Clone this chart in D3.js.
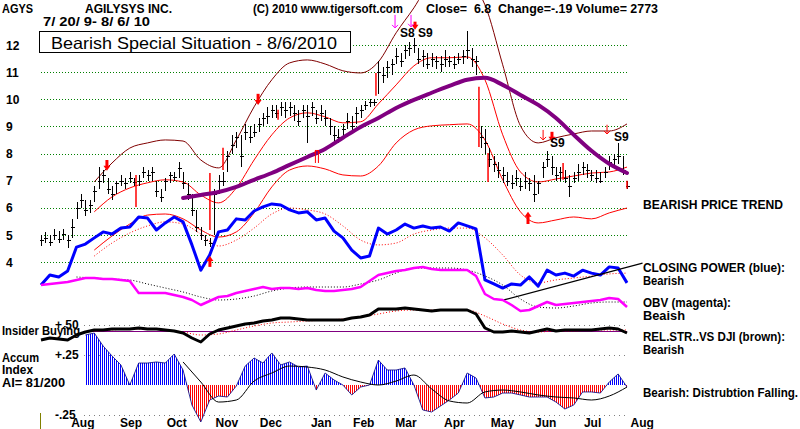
<!DOCTYPE html>
<html><head><meta charset="utf-8">
<script src="https://cdn.jsdelivr.net/npm/d3@7"></script>
<style>
html,body{margin:0;padding:0;background:#fff;}
svg{display:block;}
text{font-family:"Liberation Sans",Arial,sans-serif;font-weight:bold;font-size:12px;fill:#000;white-space:pre;}
</style></head><body>
<svg id="chart" width="800" height="429"></svg>
<script>
// ---------------- DATA ----------------
// price bars, one every 2 trading days from 7/20/09 (day 0) to 8/6/10 (day 264)
const barClose = [4.8,4.9,4.75,5.0,4.85,5.05,4.8,5.3,6.0,6.3,
 5.9,6.1,6.6,7.0,7.2,6.7,6.5,6.9,7.0,6.9,
 7.1,6.95,7.0,7.3,7.2,7.3,6.6,6.4,7.0,7.2,
 7.15,7.45,6.9,6.5,5.9,5.3,5.0,4.8,4.7,6.5,
 7.0,7.0,7.9,8.3,8.6,7.9,8.8,8.6,8.8,9.1,
 9.3,9.4,9.6,9.5,9.7,9.6,9.7,9.5,9.2,9.6,
 9.4,9.7,9.3,9.5,9.3,9.0,8.7,8.6,8.9,9.2,
 9.0,9.5,9.6,9.8,9.9,9.9,11.0,10.9,11.2,11.3,
 11.6,11.4,11.8,11.9,12.0,11.5,11.6,11.3,11.5,11.4,
 11.3,11.5,11.4,11.3,11.5,11.6,11.8,11.5,11.4,8.6,
 8.4,7.8,7.6,7.4,7.2,7.0,6.9,7.1,6.8,7.0,
 6.9,6.5,6.9,7.5,7.8,7.5,7.2,7.3,7.1,6.8,
 7.1,7.3,7.5,7.4,7.2,7.1,7.0,7.3,7.7,7.8,
 7.9,7.4,6.8];
const barHigh = [5.0,5.1,5.0,5.2,5.15,5.2,5.0,5.6,6.2,6.5,
 6.3,6.3,6.8,7.5,7.4,7.1,6.8,7.0,7.2,7.1,
 7.3,7.1,7.2,7.5,7.4,7.5,7.0,6.7,7.1,7.3,
 7.3,7.7,7.3,6.9,6.5,5.9,5.3,5.0,4.9,6.7,
 7.2,7.3,8.1,8.7,8.8,8.7,9.1,9.0,9.1,9.3,
 9.5,9.7,9.8,9.8,9.9,9.9,9.9,9.8,9.6,9.8,
 9.8,9.9,9.6,9.8,9.6,9.3,9.0,8.9,9.1,9.5,
 9.4,9.7,9.8,9.95,10.0,10.0,11.4,11.2,11.4,11.5,
 11.9,11.7,12.0,12.1,12.25,11.9,11.8,11.7,11.7,11.6,
 11.6,11.8,11.6,11.6,11.7,11.8,12.5,11.9,11.6,9.0,
 8.9,8.2,7.9,7.7,7.5,7.3,7.2,7.4,7.1,7.3,
 7.1,7.2,7.0,7.7,8.1,7.9,7.5,7.5,7.4,7.2,
 7.3,7.6,7.7,7.6,7.4,7.4,7.3,7.5,7.9,8.0,
 8.4,7.9,7.0];
const barLow = [4.6,4.7,4.6,4.8,4.7,4.8,4.5,4.9,5.6,6.0,
 5.7,5.8,6.2,6.7,6.9,6.5,6.3,6.5,6.8,6.7,
 6.9,6.8,6.8,7.1,7.0,7.0,6.4,6.2,6.6,6.9,
 7.0,7.1,6.7,6.3,5.7,5.1,4.8,4.6,4.55,5.0,
 6.5,6.8,7.3,8.0,8.2,7.5,8.5,8.4,8.6,8.8,
 9.0,9.1,9.3,9.3,9.4,9.3,9.4,9.2,9.0,9.3,
 8.4,9.4,9.1,9.2,9.0,8.7,8.4,8.4,8.6,8.9,
 8.8,9.1,9.3,9.6,9.7,9.75,10.2,10.6,10.8,10.9,
 11.3,11.2,11.5,11.6,11.7,11.3,11.2,11.1,11.2,11.1,
 11.0,11.2,11.2,11.1,11.3,11.3,11.5,11.2,10.9,8.2,
 8.0,7.5,7.3,7.1,6.9,6.8,6.7,6.8,6.6,6.7,
 6.6,6.2,6.5,7.1,7.5,7.2,7.0,7.0,6.9,6.4,
 6.9,7.0,7.2,7.1,7.0,6.9,6.9,7.1,7.4,7.5,
 7.6,7.2,6.7];
// red-coloured bars: [day, high, low]
const redBars = [[42.8,7.21,6.03],[76.1,7.28,5.18],[82,8.21,7.39],[106.8,9.61,9.24],[150.9,10.97,10.13],[197.3,10.46,8.24],[201.4,8.02,6.95],[235.2,7.65,7.03],[264,7.0,6.7]];

// bands and moving averages, one value every 8 trading days
const upperBand = [null,null,null,6.95,7.65,8.2,8.39,8.5,8.46,7.76,7.47,8.5,9.72,10.72,11.34,11.45,11.3,11.05,10.97,11.38,12.45,13.37,14.4,14.77,14.4,13.48,11.27,9.02,8.39,8.58,8.72,8.83,8.83,9.09];
const midAvg = [null,null,null,5.85,6.4,6.73,6.92,7.03,6.95,6.47,6.18,6.73,7.76,8.69,9.31,9.5,9.35,9.13,9.17,9.83,10.53,11.23,11.53,11.53,11.56,10.72,8.69,7.32,6.95,7.06,7.17,7.28,7.32,7.5];
const lowerBand = [null,null,null,4.44,4.96,5.4,5.73,5.77,5.59,5.18,4.92,5.11,5.81,6.77,7.39,7.54,7.43,7.21,7.17,7.54,8.39,8.87,9.02,9.06,9.09,8.5,7.03,5.85,5.44,5.55,5.66,5.59,5.81,5.99];
const ma65 = [null,null,null,null,null,null,null,null,6.36,6.47,6.58,6.77,7.03,7.28,7.58,7.87,8.17,8.58,8.98,9.31,9.68,9.98,10.24,10.49,10.72,10.79,10.53,10.16,9.79,9.31,8.69,8.1,7.62,7.28];
const closingPowerMA = [null,null,null,4.22,4.7,5.07,5.33,5.48,5.4,5.03,4.59,4.81,5.25,5.77,5.99,5.92,5.77,5.33,4.81,4.63,4.7,5.03,5.18,5.25,5.25,4.89,4.26,3.52,3.23,3.34,3.41,3.48,3.56,3.59];
const obvMA = [null,null,43,42,41,40,36,32,28,23,20,21,24,29,32,33,33,33,36,40,47,52,52,52,50,44,35,21,13,12,14,17,18,18];
const relStrMA = [null,null,null,0,1,2,2,1,-1,-4,-3,1,5,8,9,10,11,12,14,17,20,21,21,21,21,15,7,1,-1,0,0,1,1,1];
const accumMA = [null,null,null,null,null,null,null,null,0.192,0.025,-0.142,-0.125,0.033,0.1,0.158,0.15,0.125,0.067,0.025,0,0.033,0.083,-0.033,-0.133,-0.15,-0.058,-0.042,-0.058,-0.083,-0.1,-0.108,-0.125,-0.092,-0.017];

// indicators, one value every 4 trading days
const closingPower = [3.15,3.52,3.45,3.67,4.55,4.66,4.89,5.11,5.03,5.25,
 5.29,5.66,5.62,5.18,5.44,5.66,5.48,4.63,3.7,4.26,
 5.11,5.18,5.59,5.55,5.88,6.03,6.14,6.1,5.92,5.81,
 5.85,5.55,5.62,5.14,4.89,4.44,4.15,4.22,5.25,5.03,
 5.18,5.4,5.25,5.33,5.25,5.29,5.14,5.44,5.33,5.22,
 3.34,3.19,3.04,3.19,3.15,3.45,3.11,3.7,3.52,3.59,
 3.48,3.7,3.59,3.52,3.82,3.78,3.23];
const obv = [35,36,37,38,40,42,42,41,41,40,
 39,27,27,27,27,25,23,20,15,19,
 23,24,27,29,31,33,31,32,32,31,
 32,30,29,29,30,31,33,39,45,47,
 49,50,52,53,51,50,50,50,50,44,
 26,21,20,15,9,10,14,18,15,16,
 17,18,19,20,22,21,13];
const relStr = [-9,-7,-8,-9,-4,-1,1,1,2,2,
 2,3,2,2,1,0,-2,-7,-11,-3,
 1,3,5,7,8,10,11,13,13,12,
 11,11,11,11,11,13,14,16,22,22,
 22,23,22,21,20,21,21,21,21,17,
 3,-1,-1,0,-1,-2,0,2,0,1,
 1,1,1,2,3,2,-2];
const accum = [null,null,null,null,null,
 .417,.433,.325,.242,.167,0,.183,.183,.192,.183,
 .258,.125,-.167,-.308,-.125,-.092,-.1,-.008,.158,.225,
 .183,.267,.167,.192,.15,.158,-.042,.1,.042,0,
 -.083,-.017,0,.208,.125,.125,.142,0,-.208,-.225,
 -.175,-.125,-.067,.1,.058,-.108,-.1,-.067,-.067,-.083,
 -.1,-.1,-.1,-.142,-.2,-.167,-.058,-.058,-.067,.025,
 .092,-.017];
const cpTrendLine = [[208.5,2.6],[271,3.96]];

// signals
const thickDownArrows = [[29.7,7.76,7.36],[97.8,10.2,9.79],[168.5,12.86,12.56],[230.2,8.8,8.43]];
const thinDownArrows = [[226.2,8.87,8.5],[255,9.06,8.72]];
const magentaDownArrows = [[159.5,13.11,12.63],[166.7,13.11,12.67]];
const thickUpArrows = [[219.4,5.85,5.4],[76.1,4.22,3.82]];
const doubleUpArrows = [[124.3,8.13,7.65]];
const signalLabels = ["S8 S9","S9","S9"];
const signalDays = [161.7,229.3,258.1];
const signalPrices = [12.29,8.24,8.46];

// axis labels
const priceTicks = [12,11,10,9,8,7,6,5,4];
const monthNames = ["Aug","Sep","Oct","Nov","Dec","Jan","Feb","Mar","Apr","May","Jun","Jul","Aug"];
const monthStartDays = [10,32,53,75,95,118,137,156,178,199,219,241,262];
const accumTicks = [0.5,0.25,-0.25];
const accumTickLabels = ["+.50","+.25","-.25"];

// ---------------- DRAW ----------------
const W = 800, H = 429;
const svg = d3.select("#chart");
svg.append("rect").attr("width", W).attr("height", H).attr("fill", "#fff");

const xDay = d3.scaleLinear().domain([0, 264]).range([41, 627]);
const yPrice = d3.scaleLinear().domain([4, 12]).range([262, 45]);
const yObv = d3.scaleLinear().domain([0, 60]).range([320, 260]);
const yRel = d3.scaleLinear().domain([-20, 40]).range([351, 291]);
const yAcc = d3.scaleLinear().domain([-0.5, 0.5]).range([445, 325]);

const pts = (arr, step) => arr.map((v, i) => ({d: i * step, v}));
const lineOf = (y, curve) => d3.line().defined(p => p.v != null)
  .x(p => xDay(p.d)).y(p => y(p.v)).curve(curve || d3.curveLinear);

// price grid (axis)
const gAxis = svg.append("g").attr("transform", "translate(41,0)")
  .call(d3.axisLeft(yPrice).tickValues(priceTicks).tickSize(-587).tickFormat(d3.format("d")));
gAxis.select(".domain").remove();
gAxis.selectAll(".tick line").attr("stroke", "#008000").attr("stroke-dasharray", "1,2")
  .attr("shape-rendering", "crispEdges");
gAxis.selectAll(".tick text").attr("x", -35).attr("text-anchor", "start")
  .attr("font-family", "Liberation Sans, Arial, sans-serif").attr("font-size", 12)
  .attr("font-weight", "bold").attr("fill", "#000").attr("dy", "0.35em");

// accum grid lines
const gAcc = svg.append("g");
accumTicks.forEach((t, i) => {
  gAcc.append("line").attr("x1", 84).attr("x2", 628)
    .attr("y1", Math.round(yAcc(t)) + 0.5).attr("y2", Math.round(yAcc(t)) + 0.5)
    .attr("stroke", "#808080").attr("stroke-dasharray", "1,4").attr("shape-rendering", "crispEdges");
  gAcc.append("text").attr("x", 55).attr("y", yAcc(t) + 4).text(accumTickLabels[i]);
});

// bands
svg.append("path").datum(pts(upperBand, 8)).attr("d", lineOf(yPrice, d3.curveMonotoneX))
  .attr("fill", "none").attr("stroke", "#800000").attr("stroke-width", 1);
svg.append("path").datum(pts(midAvg, 8)).attr("d", lineOf(yPrice, d3.curveMonotoneX))
  .attr("fill", "none").attr("stroke", "#ff0000").attr("stroke-width", 1);
svg.append("path").datum(pts(lowerBand, 8)).attr("d", lineOf(yPrice, d3.curveMonotoneX))
  .attr("fill", "none").attr("stroke", "#ff0000").attr("stroke-width", 1);
svg.append("path").datum(pts(closingPowerMA, 8)).attr("d", lineOf(yPrice, d3.curveMonotoneX))
  .attr("fill", "none").attr("stroke", "#ff0000").attr("stroke-width", 1).attr("stroke-dasharray", "1,2");

// price bars
const gBars = svg.append("g").attr("stroke", "#000").attr("stroke-width", 1).attr("shape-rendering", "crispEdges");
barClose.forEach((c, i) => {
  const x = Math.round(xDay(i * 2)) + 0.5;
  gBars.append("line").attr("x1", x).attr("x2", x).attr("y1", yPrice(barHigh[i])).attr("y2", yPrice(barLow[i]));
  const yc = Math.round(yPrice(c)) + 0.5;
  gBars.append("line").attr("x1", x - 2).attr("x2", x + 2.5).attr("y1", yc).attr("y2", yc);
});
const gRed = svg.append("g").attr("stroke", "#ff0000").attr("stroke-width", 1.5);
redBars.forEach(b => {
  const x = xDay(b[0]);
  gRed.append("line").attr("x1", x).attr("x2", x).attr("y1", yPrice(b[1])).attr("y2", yPrice(b[2]));
});

// 65-day MA
svg.append("path").datum(pts(ma65, 8)).attr("d", lineOf(yPrice, d3.curveMonotoneX))
  .attr("fill", "none").attr("stroke", "#800080").attr("stroke-width", 4).attr("stroke-linecap", "round");

// closing power
svg.append("path").datum(pts(closingPower, 4)).attr("d", lineOf(yPrice))
  .attr("fill", "none").attr("stroke", "#0000ff").attr("stroke-width", 3).attr("stroke-linejoin", "round");
svg.append("path").datum(cpTrendLine.map(p => ({d: p[0], v: p[1]}))).attr("d", lineOf(yPrice))
  .attr("fill", "none").attr("stroke", "#000").attr("stroke-width", 1.3);

// OBV
svg.append("path").datum(pts(obvMA, 8)).attr("d", lineOf(yObv, d3.curveMonotoneX))
  .attr("fill", "none").attr("stroke", "#000").attr("stroke-width", 1).attr("stroke-dasharray", "1,2");
svg.append("path").datum(pts(obv, 4)).attr("d", lineOf(yObv))
  .attr("fill", "none").attr("stroke", "#ff00ff").attr("stroke-width", 2.5).attr("stroke-linejoin", "round");

// relative strength
svg.append("line").attr("x1", xDay(20)).attr("x2", xDay(264))
  .attr("y1", Math.round(yRel(0)) + 0.5).attr("y2", Math.round(yRel(0)) + 0.5)
  .attr("stroke", "#800080").attr("stroke-width", 1);
svg.append("path").datum(pts(relStrMA, 8)).attr("d", lineOf(yRel, d3.curveMonotoneX))
  .attr("fill", "none").attr("stroke", "#ff0000").attr("stroke-width", 1).attr("stroke-dasharray", "1,2");
svg.append("path").datum(pts(relStr, 4)).attr("d", lineOf(yRel))
  .attr("fill", "none").attr("stroke", "#000").attr("stroke-width", 3).attr("stroke-linejoin", "round");

// accumulation index
const defs = svg.append("defs");
function stripe(id, color) {
  const p = defs.append("pattern").attr("id", id).attr("patternUnits", "userSpaceOnUse")
    .attr("width", 2).attr("height", 4);
  p.append("rect").attr("width", 1).attr("height", 4).attr("fill", color);
}
stripe("stripeBlue", "#0000ff");
stripe("stripeRed", "#ff0000");
const y0 = yAcc(0);
defs.append("clipPath").attr("id", "clipPos").append("rect").attr("x", 0).attr("y", 300).attr("width", W).attr("height", y0 - 300);
defs.append("clipPath").attr("id", "clipNeg").append("rect").attr("x", 0).attr("y", y0).attr("width", W).attr("height", 70);
const accArea = d3.area().defined(p => p.v != null).x(p => xDay(p.d)).y0(y0).y1(p => yAcc(p.v));
const accPts = pts(accum, 4);
svg.append("path").datum(accPts).attr("d", accArea).attr("fill", "url(#stripeBlue)").attr("clip-path", "url(#clipPos)");
svg.append("path").datum(accPts).attr("d", accArea).attr("fill", "url(#stripeRed)").attr("clip-path", "url(#clipNeg)");
svg.append("path").datum(accPts).attr("d", lineOf(yAcc)).attr("fill", "none").attr("stroke", "#000080").attr("stroke-width", 0.8);
svg.append("path").datum(pts(accumMA, 8)).attr("d", lineOf(yAcc, d3.curveMonotoneX))
  .attr("fill", "none").attr("stroke", "#000").attr("stroke-width", 1);

// arrows
const gSig = svg.append("g");
thickDownArrows.forEach(a => {
  const x = xDay(a[0]), y1 = yPrice(a[1]), y2 = yPrice(a[2]);
  gSig.append("line").attr("x1", x).attr("x2", x).attr("y1", y1).attr("y2", y2 - 4).attr("stroke", "#ff0000").attr("stroke-width", 3);
  gSig.append("path").attr("d", `M${x - 3.5},${y2 - 5}L${x + 3.5},${y2 - 5}L${x},${y2}Z`).attr("fill", "#ff0000");
});
function thinDown(a, color) {
  const x = xDay(a[0]), y1 = yPrice(a[1]), y2 = yPrice(a[2]);
  gSig.append("line").attr("x1", x).attr("x2", x).attr("y1", y1).attr("y2", y2).attr("stroke", color).attr("stroke-width", 1);
  gSig.append("path").attr("d", `M${x - 3},${y2 - 3}L${x},${y2}L${x + 3},${y2 - 3}`).attr("fill", "none").attr("stroke", color).attr("stroke-width", 1);
}
thinDownArrows.forEach(a => thinDown(a, "#ff0000"));
magentaDownArrows.forEach(a => thinDown(a, "#ff00ff"));
thickUpArrows.forEach(a => {
  const x = xDay(a[0]), y1 = yPrice(a[1]), y2 = yPrice(a[2]);
  gSig.append("line").attr("x1", x).attr("x2", x).attr("y1", y1 + 4).attr("y2", y2).attr("stroke", "#ff0000").attr("stroke-width", 3);
  gSig.append("path").attr("d", `M${x - 3.5},${y1 + 5}L${x + 3.5},${y1 + 5}L${x},${y1}Z`).attr("fill", "#ff0000");
});
doubleUpArrows.forEach(a => {
  const x = xDay(a[0]), y1 = yPrice(a[1]), y2 = yPrice(a[2]);
  [-1.5, 1.5].forEach(o => gSig.append("line").attr("x1", x + o).attr("x2", x + o).attr("y1", y1).attr("y2", y2)
    .attr("stroke", "#ff0000").attr("stroke-width", 1));
  gSig.append("path").attr("d", `M${x - 3},${y1 + 3}L${x},${y1}L${x + 3},${y1 + 3}`).attr("fill", "none").attr("stroke", "#ff0000");
});
signalLabels.forEach((s, i) => {
  gSig.append("text").attr("x", xDay(signalDays[i])).attr("y", yPrice(signalPrices[i])).text(s);
});

// olive mark bottom left
svg.append("line").attr("x1", xDay(0) - 0.5).attr("x2", xDay(0) - 0.5).attr("y1", 413).attr("y2", 429)
  .attr("stroke", "#808000").attr("stroke-width", 1);

// month labels
monthNames.forEach((m, i) => {
  svg.append("text").attr("x", xDay(monthStartDays[i]) + 8).attr("y", 427).text(m);
});

// texts
const T = (x, y, s, len, extra) => {
  const t = svg.append("text").attr("x", x).attr("y", y).attr("xml:space", "preserve").text(s);
  if (len) t.attr("textLength", len).attr("lengthAdjust", "spacingAndGlyphs");
  if (extra) extra(t);
  return t;
};
T(2, 13, "AGYS", 31);
T(85, 13, "AGILYSYS INC.", 87);
T(253, 13, "(C) 2010 www.tigersoft.com", 150);
T(426, 13, "Close=  6.8  Change=-.19 Volume= 2773", 232);
T(43, 26, "7/ 20/ 9- 8/ 6/ 10", 107);
svg.append("rect").attr("x", 39.5).attr("y", 31.5).attr("width", 311).attr("height", 21)
  .attr("fill", "#fff").attr("stroke", "#000").attr("stroke-width", 1);
T(51, 49, "Bearish Special Situation - 8/6/2010", 286, t => t.style("font-weight", "normal").style("font-size", "16.5px"));

// right labels
T(643, 209, "BEARISH PRICE TREND", 140);
T(643, 272, "CLOSING POWER (blue):", 142);
T(643, 285, "Bearish", 41);
T(643, 307, "OBV (magenta):", 88);
T(643, 320, "Beaish", 42);
T(643, 341, "REL.STR..VS DJI (brown):", 142);
T(643, 354, "Bearish", 41);
T(643, 397, "Bearish: Distrubtion Falling.", 155);

// left labels
T(2, 335, "Insider Buying", 78);
T(2, 362, "Accum", 37);
T(2, 374, "Index", 31);
T(2, 387, "AI= 81/200", 63);
</script>
</body></html>
